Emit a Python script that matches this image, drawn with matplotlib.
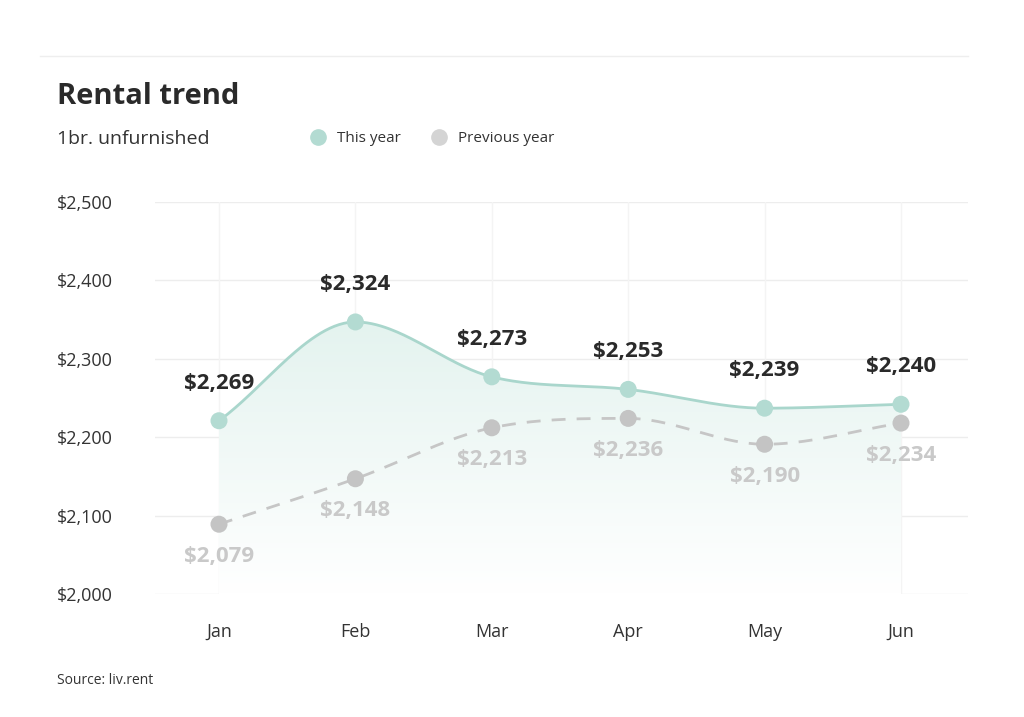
import numpy as np
import matplotlib
matplotlib.use("Agg")
import matplotlib.pyplot as plt
from matplotlib.lines import Line2D
from matplotlib.patches import Polygon

plt.rcParams["font.family"] = ["Open Sans", "DejaVu Sans"]

months = ["Jan", "Feb", "Mar", "Apr", "May", "Jun"]
# positions of the dots as drawn
this_year = [2221, 2347, 2277, 2261, 2237, 2242]
prev_year = [2089, 2147, 2212, 2224, 2191, 2218]
# value labels as printed on the chart
this_labels = ["$2,269", "$2,324", "$2,273", "$2,253", "$2,239", "$2,240"]
prev_labels = ["$2,079", "$2,148", "$2,213", "$2,236", "$2,190", "$2,234"]
yticks = [2000, 2100, 2200, 2300, 2400, 2500]

TEAL = "#a9d6cc"
TEAL_DOT = "#b3dbd2"
GREY = "#c6c6c6"
GREY_DOT = "#c4c4c4"
DARK = "#2a2a2a"


def monotone(x, y, n=60):
    # Fritsch-Carlson monotone cubic, only used to draw the smooth line
    x = np.asarray(x, float)
    y = np.asarray(y, float)
    h = np.diff(x)
    d = np.diff(y) / h
    m = np.zeros_like(y)
    m[0], m[-1] = d[0], d[-1]
    for i in range(1, len(y) - 1):
        if d[i - 1] * d[i] <= 0:
            m[i] = 0
        else:
            m[i] = (d[i - 1] + d[i]) / 2
    for i in range(len(d)):
        if d[i] == 0:
            m[i] = m[i + 1] = 0
            continue
        a, b = m[i] / d[i], m[i + 1] / d[i]
        s = a * a + b * b
        if s > 9:
            t = 3 / np.sqrt(s)
            m[i], m[i + 1] = t * a * d[i], t * b * d[i]
    xs, ys = [], []
    for i in range(len(d)):
        t = np.linspace(0, 1, n)
        h00 = 2 * t**3 - 3 * t**2 + 1
        h10 = t**3 - 2 * t**2 + t
        h01 = -2 * t**3 + 3 * t**2
        h11 = t**3 - t**2
        xs.append(x[i] + t * h[i])
        ys.append(h00 * y[i] + h10 * h[i] * m[i] + h01 * y[i + 1] + h11 * h[i] * m[i + 1])
    return np.concatenate(xs), np.concatenate(ys)


fig = plt.figure(figsize=(10.24, 7.17), dpi=100)
ax = fig.add_axes([155 / 1024, 1 - 594 / 717, 813 / 1024, 392 / 717])

x = np.arange(len(months))
ax.set_xlim(-64 / 136.4, 5 + 67 / 136.4)
ax.set_ylim(2000, 2500)

# grid
for v in yticks:
    ax.axhline(v, color="#ededed", lw=1, zorder=0)
for xi in x:
    ax.axvline(xi, color="#f4f4f4", lw=1, zorder=0)

# gradient fill under this year's curve
sx, sy = monotone(x, this_year)
poly = np.column_stack([np.r_[sx, sx[-1], sx[0]], np.r_[sy, 2000, 2000]])
patch = Polygon(poly, closed=True, facecolor="none", edgecolor="none")
ax.add_patch(patch)
grad = np.linspace(0, 1, 256).reshape(-1, 1)
cmap = matplotlib.colors.LinearSegmentedColormap.from_list("g", ["#ffffff", "#e4f3ef"])
im = ax.imshow(grad, cmap=cmap, aspect="auto", origin="lower",
               extent=[sx[0], sx[-1], 2000, max(this_year)], zorder=1)
im.set_clip_path(patch)

px, py = monotone(x, prev_year)
ax.plot(px, py, color=GREY, lw=2, ls=(0, (5, 4)), zorder=2)
ax.plot(sx, sy, color=TEAL, lw=2, zorder=3)
ax.scatter(x, prev_year, s=150, color=GREY_DOT, zorder=4, clip_on=False, edgecolors="none")
ax.scatter(x, this_year, s=150, color=TEAL_DOT, zorder=5, clip_on=False, edgecolors="none")

for xi, v, lab in zip(x, this_year, this_labels):
    ax.annotate(lab, (xi, v), xytext=(0, 27), textcoords="offset points",
                ha="center", va="center", fontsize=16, fontweight="bold", color=DARK)
for xi, v, lab in zip(x, prev_year, prev_labels):
    ax.annotate(lab, (xi, v), xytext=(0, -23), textcoords="offset points",
                ha="center", va="center", fontsize=16, fontweight="bold", color="#c9c9c9")

ax.set_xticks(x)
ax.set_xticklabels(months, fontsize=13, color="#333333")
ax.set_yticks([])
ax.tick_params(axis="x", length=0, pad=21)
for s in ax.spines.values():
    s.set_visible(False)
ax.patch.set_alpha(0)

# y labels left aligned at the page margin
for v in yticks:
    yf = 1 - (596 - (v - 2000) * 392 / 500) / 717
    fig.text(57 / 1024, yf, "${:,}".format(v), ha="left", va="center",
             fontsize=13, color="#333333")

# header
fig.add_artist(Line2D([40 / 1024, 968 / 1024], [1 - 56 / 717] * 2, color="#eeeeee", lw=1))
fig.text(57 / 1024, 1 - 97 / 717, "Rental trend", ha="left", va="center",
         fontsize=21, fontweight="bold", color=DARK)
fig.text(57 / 1024, 1 - 139 / 717, "1br. unfurnished", ha="left", va="center",
         fontsize=14, color="#333333")
fig.add_artist(Line2D([318 / 1024], [1 - 137 / 717], marker="o", ms=11, color=TEAL_DOT, lw=0))
fig.text(337 / 1024, 1 - 139 / 717, "This year", ha="left", va="center",
         fontsize=11, color="#333333")
fig.add_artist(Line2D([439 / 1024], [1 - 137 / 717], marker="o", ms=11, color="#d4d4d4", lw=0))
fig.text(458 / 1024, 1 - 139 / 717, "Previous year", ha="left", va="center",
         fontsize=11, color="#333333")
fig.text(57 / 1024, 1 - 680 / 717, "Source: liv.rent", ha="left", va="center",
         fontsize=10, color="#333333")

fig.savefig("out.png", dpi=100, facecolor="white")
